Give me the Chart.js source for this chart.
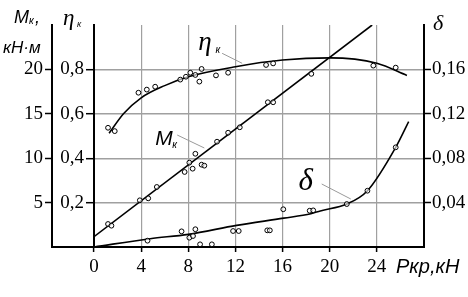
<!DOCTYPE html>
<html><head><meta charset="utf-8">
<script src="https://cdn.jsdelivr.net/npm/chart.js@4.4.1/dist/chart.umd.min.js"></script>
<style>html,body{margin:0;padding:0;background:#fff;}canvas{display:block;}</style>
</head><body>
<canvas id="c" width="468" height="297"></canvas>
<script>
// Tick values
const xTicks = [0, 4, 8, 12, 16, 20, 24];
const etaTicks = [0.2, 0.4, 0.6, 0.8];
const mTicks = [5, 10, 15, 20];
const deltaTicks = [0.04, 0.08, 0.12, 0.16];

// eta_k measured points
const etaPtsX = [1.19, 1.76, 3.77, 4.48, 5.19, 7.32, 7.8, 8.17, 8.6, 8.94, 9.13, 10.35, 11.38, 14.6, 15.2, 23.7, 25.6];
const etaPtsY = [0.537, 0.522, 0.695, 0.709, 0.722, 0.754, 0.767, 0.785, 0.775, 0.745, 0.802, 0.773, 0.785, 0.82, 0.827, 0.817, 0.808];
// eta_k fitted curve
const etaCurveX = [1.28, 2.5, 4, 6, 8, 12, 16, 20, 24, 26.55];
const etaCurveY = [0.512, 0.60, 0.672, 0.727, 0.767, 0.812, 0.842, 0.852, 0.828, 0.773];

// M_k measured points (kN·m)
const mPtsX = [1.19, 1.48, 3.89, 4.6, 5.33, 7.69, 8.09, 8.37, 8.6, 9.13, 9.36, 10.44, 11.38, 12.37, 14.75, 15.2, 18.44];
const mPtsY = [2.59, 2.4, 5.26, 5.48, 6.76, 8.45, 9.5, 8.82, 10.5, 9.27, 9.16, 11.86, 12.87, 13.48, 16.3, 16.3, 19.5];
// M_k fitted line
const mLineX = [0, 23.6];
const mLineY = [1.16, 25];

// delta measured points
const deltaPtsX = [4.54, 7.43, 8.09, 8.4, 8.6, 9.0, 10.0, 11.8, 12.28, 14.7, 14.92, 16.06, 18.3, 18.6, 21.45, 23.2, 25.6];
const deltaPtsY = [0.0057, 0.0141, 0.0084, 0.0099, 0.016, 0.0024, 0.0024, 0.0144, 0.0144, 0.015, 0.015, 0.034, 0.0327, 0.033, 0.0387, 0.0507, 0.0898];
// delta fitted curve
const deltaCurveX = [0, 4.77, 8, 12.1, 16.1, 18.4, 19.2, 21.45, 23.2, 25.6, 26.7];
const deltaCurveY = [0, 0.0075, 0.0114, 0.0195, 0.026, 0.030, 0.0325, 0.0387, 0.0507, 0.0898, 0.113];

const zip = (xs, ys) => xs.map((x, i) => ({x: x, y: ys[i]}));
const comma = v => String(v).replace('.', ',');
const serif = "'Liberation Serif', 'Times New Roman', serif";
const sans = "'Liberation Sans', Arial, sans-serif";
const tickFont = {family: serif, size: 19};

const ptStyle = {showLine: false, pointRadius: 2.4, pointBorderWidth: 1, pointBorderColor: '#000', pointBackgroundColor: 'rgba(255,255,255,0.6)', order: 0};
const lnStyle = {showLine: true, pointRadius: 0, borderColor: '#000', borderWidth: 1.6, cubicInterpolationMode: 'monotone', order: 1, fill: false};

const extras = {
  id: 'extras',
  afterDraw(chart) {
    const ctx = chart.ctx;
    const xs = chart.scales.x, ye = chart.scales.yEta, ym = chart.scales.yM;
    const px = v => xs.getPixelForValue(v), py = v => ye.getPixelForValue(v);
    ctx.save();
    ctx.strokeStyle = '#000'; ctx.lineWidth = 2;
    ctx.beginPath(); ctx.moveTo(ym.right - 1, xs.top); ctx.lineTo(xs.left, xs.top); ctx.stroke();
    // leader lines
    ctx.strokeStyle = '#9a9a9a'; ctx.lineWidth = 1;
    const lead = (x1, y1, x2, y2) => { ctx.beginPath(); ctx.moveTo(px(x1), py(y1)); ctx.lineTo(px(x2), py(y2)); ctx.stroke(); };
    lead(10.87, 0.8725, 12.57, 0.8275);
    lead(7.06, 0.5045, 9.36, 0.446);
    lead(19.32, 0.2838, 21.79, 0.2162);
    ctx.fillStyle = '#000'; ctx.textBaseline = 'alphabetic'; ctx.textAlign = 'left';
    const t = (s, x, y, f) => { ctx.font = f; ctx.fillText(s, x, y); };
    // in-plot labels
    t('η', px(8.85), py(0.887), 'italic 27px ' + serif);
    t('к', px(10.30), py(0.874), 'italic 10px ' + sans);
    t('M', px(5.19), py(0.4595), 'italic 21px ' + sans);
    t('к', px(6.64), py(0.446), 'italic 10px ' + sans);
    t('δ', px(17.36), py(0.2568), 'italic 31px ' + serif);
    // axis titles
    t('M', 14, 23, 'italic 18px ' + sans);
    t('к', 29, 24, 'italic 10px ' + sans);
    t(',', 35, 23, 'italic 18px ' + sans);
    t('кН·м', 3, 53, 'italic 17px ' + sans);
    t('η', 63, 25, 'italic 23px ' + serif);
    t('к', 77, 27, 'italic 9px ' + sans);
    t('δ', 433, 30, 'italic 22px ' + serif);
    t('Pкр,кН', 396, 273, 'italic 20px ' + sans);
    ctx.restore();
  }
};

new Chart(document.getElementById('c'), {
  type: 'scatter',
  data: {
    datasets: [
      Object.assign({data: zip(etaPtsX, etaPtsY), yAxisID: 'yEta'}, ptStyle),
      Object.assign({data: zip(mPtsX, mPtsY), yAxisID: 'yM'}, ptStyle),
      Object.assign({data: zip(deltaPtsX, deltaPtsY), yAxisID: 'yDelta'}, ptStyle),
      Object.assign({data: zip(etaCurveX, etaCurveY), yAxisID: 'yEta'}, lnStyle),
      Object.assign({data: zip(mLineX, mLineY), yAxisID: 'yM'}, lnStyle, {cubicInterpolationMode: 'default', tension: 0}),
      Object.assign({data: zip(deltaCurveX, deltaCurveY), yAxisID: 'yDelta'}, lnStyle)
    ]
  },
  options: {
    responsive: false,
    animation: false,
    events: [],
    layout: {padding: {top: 25, left: 0, right: 0, bottom: 0}},
    plugins: {legend: {display: false}, tooltip: {enabled: false}},
    scales: {
      x: {
        type: 'linear', position: 'bottom', min: 0, max: 28,
        afterBuildTicks: s => { s.ticks = xTicks.map(v => ({value: v})); },
        afterFit: s => { s.height = 50; },
        grid: {color: '#a0a0a0', lineWidth: 1.2, tickColor: '#000', tickLength: 5, tickWidth: 1.5},
        border: {display: true, color: '#000', width: 2},
        ticks: {font: tickFont, color: '#000', padding: 4, maxRotation: 0, autoSkip: false}
      },
      yEta: {
        type: 'linear', position: 'left', min: 0, max: 1, weight: 0,
        afterBuildTicks: s => { s.ticks = etaTicks.map(v => ({value: v})); },
        afterFit: s => { s.width = 42; },
        grid: {color: '#a0a0a0', lineWidth: 1.4, tickColor: '#000', tickLength: 8, tickWidth: 1.5},
        border: {display: true, color: '#000', width: 2},
        ticks: {font: tickFont, color: '#000', padding: 2, callback: comma}
      },
      yM: {
        type: 'linear', position: 'left', min: 0, max: 25, weight: 1,
        afterBuildTicks: s => { s.ticks = mTicks.map(v => ({value: v})); },
        afterFit: s => { s.width = 52; },
        grid: {drawOnChartArea: false, tickColor: '#000', tickLength: 7, tickWidth: 1.5},
        border: {display: true, color: '#000', width: 2},
        ticks: {font: tickFont, color: '#000', padding: 2, callback: comma}
      },
      yDelta: {
        type: 'linear', position: 'right', min: 0, max: 0.2,
        afterBuildTicks: s => { s.ticks = deltaTicks.map(v => ({value: v})); },
        afterFit: s => { s.width = 44; },
        grid: {drawOnChartArea: false, tickColor: '#000', tickLength: 7, tickWidth: 1.5},
        border: {display: true, color: '#000', width: 2},
        ticks: {font: tickFont, color: '#000', padding: 1, callback: comma}
      }
    }
  },
  plugins: [extras]
});
</script>
</body></html>
